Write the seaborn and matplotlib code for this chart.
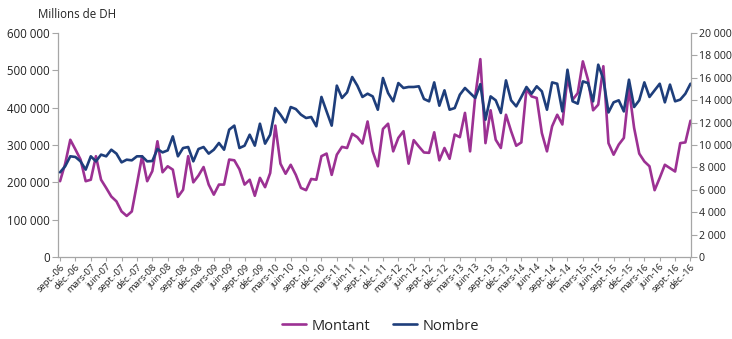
import matplotlib
matplotlib.use("Agg")
import matplotlib.pyplot as plt
import seaborn as sns
import pandas as pd
import numpy as np

# Monthly series, Sept 2006 -> Dec 2016
montant = [
    203000, 250000, 314000, 288000, 261000, 203000, 207000, 270000, 207000, 185000,
    162000, 149000, 122000, 110000, 122000, 195000, 270000, 203000, 230000, 310000,
    227000, 243000, 234000, 161000, 180000, 270000, 200000, 218000, 241000, 194000,
    167000, 194000, 194000, 261000, 259000, 235000, 194000, 207000, 164000, 212000,
    187000, 225000, 352000, 250000, 223000, 247000, 220000, 185000, 179000, 209000,
    207000, 270000, 277000, 220000, 274000, 295000, 292000, 330000, 321000, 304000,
    363000, 283000, 243000, 343000, 357000, 283000, 319000, 337000, 250000, 313000,
    296000, 280000, 279000, 334000, 259000, 292000, 263000, 328000, 321000, 386000,
    283000, 430000, 530000, 305000, 393000, 314000, 292000, 381000, 337000, 298000,
    307000, 450000, 430000, 426000, 332000, 283000, 350000, 381000, 355000, 480000,
    421000, 439000, 524000, 475000, 393000, 408000, 511000, 305000, 274000, 301000,
    319000, 450000, 346000, 277000, 256000, 243000, 179000, 212000, 247000, 238000,
    229000, 305000, 307000, 365000,
]
nombre = [
    7560, 8100, 8990, 8930, 8540, 7800, 8990, 8540, 9140, 8990,
    9580, 9230, 8450, 8690, 8630, 8990, 8990, 8540, 8570, 9640,
    9340, 9520, 10770, 8990, 9730, 9820, 8540, 9640, 9820, 9230,
    9580, 10180, 9580, 11370, 11730, 9730, 9940, 10920, 9940, 11900,
    10120, 10920, 13300, 12710, 12020, 13390, 13210, 12710, 12410, 12500,
    11670, 14290, 13000, 11730, 15300, 14200, 14700, 16070, 15300, 14290,
    14580, 14340, 13150, 15980, 14640, 13900, 15530, 15090, 15180, 15180,
    15240, 14110, 13900, 15590, 13510, 14880, 13150, 13300, 14490, 15090,
    14640, 14200, 15430, 12260, 14340, 13990, 12860, 15770, 13990, 13450,
    14290, 15180, 14580, 15240, 14790, 13150, 15590, 15470, 13000, 16720,
    13900, 13690, 15680, 15530, 13900, 17170, 15890, 12910, 13810, 13990,
    13000, 15830, 13390, 13990, 15590, 14290, 14880, 15470, 13810, 15390,
    13900, 14050, 14580, 15470,
]
quarter_months = ["sept.", "déc.", "mars", "juin"]
first_year = 2006

months_idx = np.arange(len(montant))
df = pd.DataFrame({"mois": months_idx, "Montant": montant, "Nombre": nombre})

# Quarterly tick labels (every third month)
tick_pos = list(range(0, len(montant), 3))
tick_labels = []
for k, p in enumerate(tick_pos):
    name = quarter_months[k % 4]
    year = first_year + (p + 8) // 12
    tick_labels.append(f"{name}-{year % 100:02d}")

PURPLE = "#9C3193"
NAVY = "#1E3E7B"
GREY = "#A6A6A6"
TXT = "#222222"

sns.set_style("white")
plt.rcParams["font.family"] = ["Open Sans", "DejaVu Sans"]

fig = plt.figure(figsize=(7.32, 3.39), dpi=100)
ax = fig.add_axes([58 / 732, 1 - 257 / 339, (691 - 58) / 732, (257 - 33) / 339])
ax2 = ax.twinx()

sns.lineplot(data=df, x="mois", y="Montant", ax=ax, color=PURPLE, lw=1.9, label="Montant", legend=False)
sns.lineplot(data=df, x="mois", y="Nombre", ax=ax2, color=NAVY, lw=1.9, label="Nombre", legend=False)

ax.set_xlim(-0.4, len(montant) - 0.9)
ax.set_ylim(0, 600000)
ax2.set_ylim(0, 20000)

def fmt_space(v, _):
    return f"{int(v):,}".replace(",", " ")

ax.set_yticks(np.arange(0, 600001, 100000))
ax.yaxis.set_major_formatter(matplotlib.ticker.FuncFormatter(fmt_space))
ax2.set_yticks(np.arange(0, 20001, 2000))
ax2.yaxis.set_major_formatter(matplotlib.ticker.FuncFormatter(fmt_space))

ax.set_xticks(tick_pos)
ax.set_xticklabels(tick_labels, rotation=45, ha="right", rotation_mode="anchor", fontsize=6.8, color=TXT)
ax.set_xlabel("")
ax.set_ylabel("")
ax2.set_ylabel("")

for a in (ax, ax2):
    a.spines["top"].set_visible(False)
    for s in ("left", "right", "bottom"):
        a.spines[s].set_color(GREY)
        a.spines[s].set_linewidth(0.9)
    a.tick_params(axis="y", colors=TXT, length=4, width=0.8, color=GREY)
ax.spines["right"].set_visible(False)
ax2.spines["left"].set_visible(False)
ax2.spines["bottom"].set_visible(False)
ax.tick_params(axis="y", direction="out", left=True, pad=2, labelsize=8.3)
ax2.tick_params(axis="y", direction="out", right=True, pad=1.5, labelsize=7.6)
ax.tick_params(axis="x", direction="out", bottom=True, length=3, width=0.8, color=GREY, pad=1)
ax.grid(False)
ax2.grid(False)

fig.text(38 / 732, 1 - 14 / 339, "Millions de DH", fontsize=8.3, va="center", ha="left", color=TXT)

handles = ax.get_lines()[:1] + ax2.get_lines()[:1]
fig.legend(handles, ["Montant", "Nombre"], loc="center", bbox_to_anchor=(0.52, 1 - 326 / 339),
           ncol=2, frameon=False, fontsize=10.5, handlelength=1.6, columnspacing=1.6, handletextpad=0.4)

fig.savefig("out.png", dpi=100)
